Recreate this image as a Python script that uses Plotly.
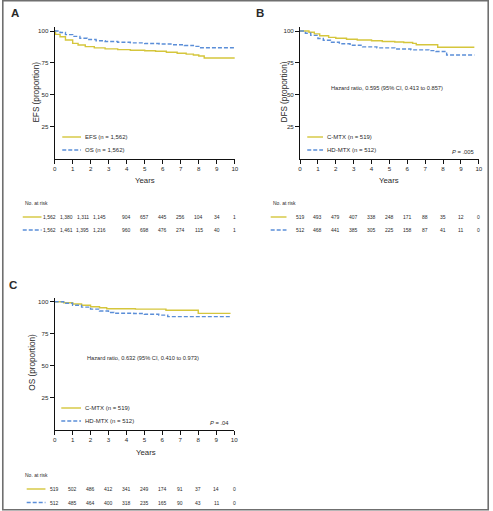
import plotly.graph_objects as go

W, H = 493, 511

# ---------------- data ----------------
years = list(range(0, 11))

# Panel A (EFS / OS)
efs_t = [0, 0.05, 0.3, 0.6, 1.0, 1.3, 1.7, 2.2, 2.8, 3.5, 4.2, 5.0, 5.6, 6.2, 6.8, 7.3, 7.7, 8.0, 8.3, 10]
efs_v = [100, 97.4, 95.5, 93.0, 90.3, 89.0, 87.8, 86.8, 86.0, 85.4, 84.9, 84.5, 84.1, 83.4, 82.6, 81.9, 81.2, 80.4, 78.9, 78.9]
os_t = [0, 0.3, 0.6, 1.0, 1.4, 1.8, 2.3, 2.8, 3.5, 4.2, 5.0, 5.8, 6.5, 7.2, 7.7, 8.0, 10]
os_v = [100, 98.8, 97.2, 95.8, 94.3, 93.3, 92.4, 91.8, 91.2, 90.7, 90.2, 89.8, 89.3, 88.7, 88.0, 86.9, 86.9]

# Panel B (DFS)
dfs_c_t = [0, 0.5, 0.8, 1.1, 1.6, 2.0, 2.6, 3.2, 4.0, 4.6, 5.3, 5.8, 6.3, 6.5, 7.7, 9.75]
dfs_c_v = [100, 99.0, 97.8, 96.3, 95.0, 94.3, 93.5, 93.0, 92.4, 91.8, 91.4, 91.0, 90.3, 89.2, 87.3, 87.3]
dfs_h_t = [0, 0.3, 0.6, 1.0, 1.3, 1.7, 2.2, 2.8, 3.5, 4.3, 5.3, 6.2, 7.2, 7.6, 8.2, 9.75]
dfs_h_v = [100, 98.3, 96.6, 94.2, 92.8, 91.2, 90.0, 88.8, 87.6, 86.8, 85.9, 85.2, 84.6, 84.0, 81.2, 81.2]

# Panel C (OS)
osc_c_t = [0, 0.5, 1.0, 1.5, 2.0, 2.5, 2.9, 4.5, 6.2, 8.0, 9.8]
osc_c_v = [100, 99.2, 98.2, 97.2, 96.1, 95.3, 94.5, 94.2, 93.3, 90.9, 90.9]
osc_h_t = [0, 0.5, 1.0, 1.5, 2.0, 2.5, 3.0, 3.3, 4.4, 5.0, 5.8, 6.3, 9.8]
osc_h_v = [100, 98.8, 97.2, 95.8, 94.2, 92.8, 91.6, 91.0, 90.8, 90.2, 89.5, 88.4, 88.4]

# numbers at risk
risk_a_efs = ["1,562", "1,380", "1,311", "1,145", "904", "657", "445", "256", "104", "34", "1"]
risk_a_os = ["1,562", "1,461", "1,395", "1,216", "960", "698", "476", "274", "115", "40", "1"]
risk_b_c = ["519", "493", "479", "407", "338", "248", "171", "88", "35", "12", "0"]
risk_b_h = ["512", "468", "441", "385", "305", "225", "158", "87", "41", "11", "0"]
risk_c_c = ["519", "502", "486", "412", "341", "249", "174", "91", "37", "14", "0"]
risk_c_h = ["512", "485", "464", "400", "318", "235", "165", "90", "43", "11", "0"]

ytick_vals = [25, 50, 75, 100]

# ---------------- style ----------------
YEL = "#d5c63c"
BLU = "#5b8ed8"
TXT = "#2a2a2a"
FONT = "Liberation Sans, Arial, sans-serif"
DASH = "4px,2px"
A_SHIFT = [-5, -6, -8, -9, 0, 0, 0, 0, 0, 0, 0]


def fx(p):
    return p / W


def fy(p):
    return 1 - p / H


fig = go.Figure()

panels = [
    # axis suffix, x domain px, y domain px (bottom, top)
    ("", (53.3, 235.7), (158.6, 27.2)),
    ("2", (301.7, 482.7), (158.6, 27.2)),
    ("3", (53.3, 235.0), (429.7, 297.9)),
]

series = [
    ("", efs_t, efs_v, YEL, "solid"),
    ("", os_t, os_v, BLU, DASH),
    ("2", dfs_c_t, dfs_c_v, YEL, "solid"),
    ("2", dfs_h_t, dfs_h_v, BLU, DASH),
    ("3", osc_c_t, osc_c_v, YEL, "solid"),
    ("3", osc_h_t, osc_h_v, BLU, DASH),
]
for ax, t, v, col, dash in series:
    fig.add_trace(go.Scatter(
        x=t, y=v, mode="lines", line_shape="hv",
        line=dict(color=col, width=1.4, dash=dash),
        xaxis="x" + ax, yaxis="y" + ax, showlegend=False, hoverinfo="skip"))

layout = dict(
    width=W, height=H, margin=dict(l=0, r=0, t=0, b=0),
    paper_bgcolor="white", plot_bgcolor="white",
    font=dict(family=FONT, color=TXT), showlegend=False,
)
for ax, (x0, x1), (yb, yt) in panels:
    layout["xaxis" + ax] = dict(
        domain=[fx(x0), fx(x1)], range=[0, 10], anchor="y" + ax,
        tickvals=years, ticks="outside", ticklen=4, tickwidth=1, tickcolor="#111",
        showline=True, linecolor="#111", linewidth=1, showgrid=False, zeroline=False,
        tickfont=dict(size=6.2, color=TXT, family=FONT), fixedrange=True)
    layout["yaxis" + ax] = dict(
        domain=[fy(yb), fy(yt)], range=[0, 103], anchor="x" + ax,
        tickvals=ytick_vals, ticks="outside", ticklen=4, tickwidth=1, tickcolor="#111",
        showline=True, linecolor="#111", linewidth=1, showgrid=False, zeroline=False,
        tickfont=dict(size=6.2, color=TXT, family=FONT), fixedrange=True)
fig.update_layout(**layout)

ann = []
shapes = []


def text(x, y, s, size, xanchor="center", angle=0, bold=False, xref="paper", xshift=0):
    ann.append(dict(
        x=x if xref != "paper" else fx(x), y=fy(y), xref=xref, yref="paper",
        text=f"<b>{s}</b>" if bold else s, showarrow=False,
        xanchor=xanchor, yanchor="middle", textangle=angle, xshift=xshift,
        font=dict(size=size, color=TXT, family=FONT)))


def sample(x0, x1, y, col, dash):
    shapes.append(dict(type="line", xref="paper", yref="paper",
                       x0=fx(x0), x1=fx(x1), y0=fy(y), y1=fy(y),
                       line=dict(color=col, width=1.4, dash=dash)))


# panel letters
text(7, 13, "A", 11.5, "left", bold=True)
text(255, 13, "B", 11.5, "left", bold=True)
text(5, 285, "C", 11.5, "left", bold=True)

# axis titles
text(34, 92, "EFS (proportion)", 8.2, angle=-90)
text(285, 92, "DFS (proportion)", 8.2, angle=-90)
text(30, 362, "OS (proportion)", 8.2, angle=-90)
text(144.5, 181, "Years", 7.8)
text(392, 181, "Years", 7.8)
text(146, 452, "Years", 7.8)

# legends
sample(61, 80, 137, YEL, "solid"); text(82, 137, "EFS (n = 1,562)", 6.0, "left")
sample(61, 80, 150, BLU, DASH); text(82, 150, "OS (n = 1,562)", 6.0, "left")
sample(309, 325, 137, YEL, "solid"); text(327, 137, "C-MTX (n = 519)", 6.0, "left")
sample(309, 325, 150, BLU, DASH); text(327, 150, "HD-MTX (n = 512)", 6.0, "left")
sample(60, 80, 408, YEL, "solid"); text(82, 408, "C-MTX (n = 519)", 6.0, "left")
sample(60, 80, 421, BLU, DASH); text(82, 421, "HD-MTX (n = 512)", 6.0, "left")

# statistics
text(390, 88, "Hazard ratio, 0.595 (95% CI, 0.413 to 0.857)", 5.7)
text(480, 152, "<i>P</i> = .005", 5.8, "right")
text(143, 358, "Hazard ratio, 0.632 (95% CI, 0.410 to 0.973)", 5.7)
text(232, 423, "<i>P</i> = .04", 5.8, "right")

# numbers at risk
text(21, 203, "No. at risk", 5.0, "left")
sample(21, 40, 217, YEL, "solid")
sample(21, 40, 230, BLU, DASH)
for i, yr in enumerate(years):
    text(yr, 217, risk_a_efs[i], 5.0, xref="x", xshift=A_SHIFT[i])
    text(yr, 230, risk_a_os[i], 5.0, xref="x", xshift=A_SHIFT[i])

text(272, 203, "No. at risk", 5.0, "left")
sample(272, 288, 217, YEL, "solid")
sample(272, 288, 230, BLU, DASH)
for i, yr in enumerate(years):
    text(yr, 217, risk_b_c[i], 5.0, xref="x2")
    text(yr, 230, risk_b_h[i], 5.0, xref="x2")

text(21, 475, "No. at risk", 5.0, "left")
sample(25, 44, 489, YEL, "solid")
sample(25, 44, 502.5, BLU, DASH)
for i, yr in enumerate(years):
    text(yr, 489, risk_c_c[i], 5.0, xref="x3")
    text(yr, 502.5, risk_c_h[i], 5.0, xref="x3")

# outer frame
shapes.append(dict(type="rect", xref="paper", yref="paper",
                   x0=fx(0.8), x1=fx(492.2), y0=fy(509.8), y1=fy(0.8),
                   line=dict(color="#6f6f6f", width=1.6)))

fig.update_layout(annotations=ann, shapes=shapes)
fig.write_html(
    "out.html",
    config={"displayModeBar": False},
    post_script="document.body.style.margin='0px';document.body.style.overflow='hidden';",
)
